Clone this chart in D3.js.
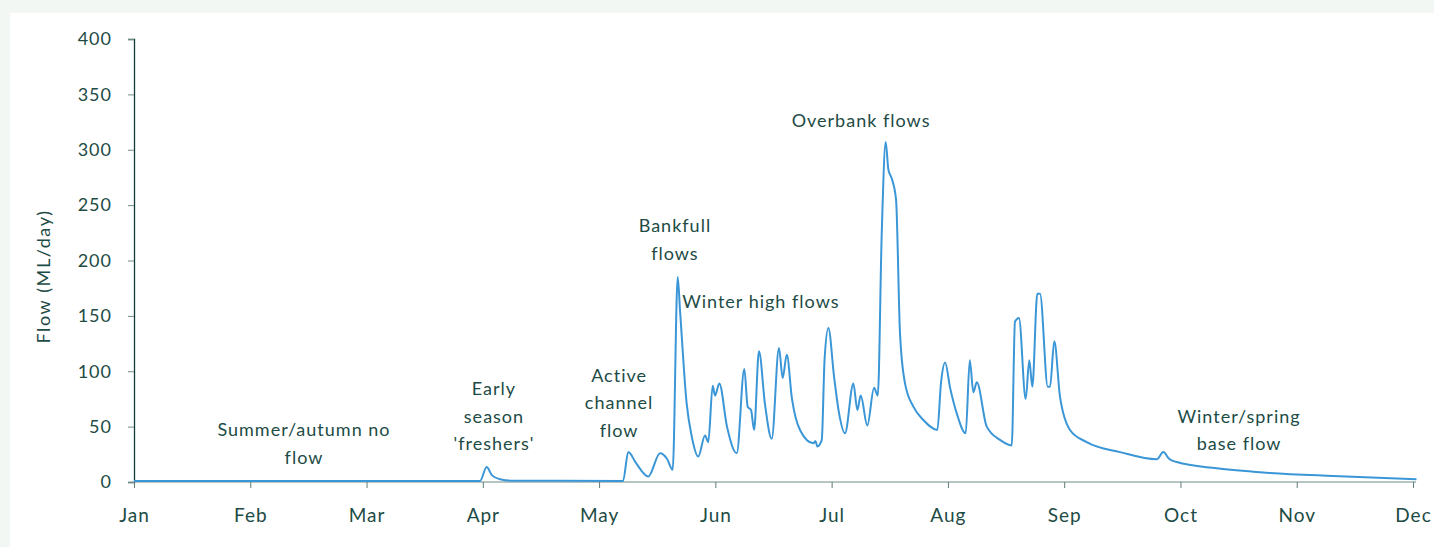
<!DOCTYPE html>
<html>
  <head>
    <meta charset="utf-8">
    <style>
    body { margin: 0; background: #f2f7f4; }
    #card {
      position: absolute;
      left: 10px;
      top: 13px;
      width: 1424px;
      height: 534px;
      background: #fff;
    }
    svg { position: absolute; left: 0; top: 0; }
    text { font-family: Lato, sans-serif; fill: #1d4b45; letter-spacing: 1px; }
    </style>
  </head>
  <body>
    <div id="card"></div>
    <svg id="chart" width="1434" height="547"></svg>

    <script src="https://d3js.org/d3.v7.min.js"></script>
    <script>
      // Month labels (x is measured in months from Jan)
      const months = ["Jan", "Feb", "Mar", "Apr", "May", "Jun", "Jul", "Aug", "Sep", "Oct", "Nov", "Dec"];
      const yTicks = [0, 50, 100, 150, 200, 250, 300, 350, 400];

      // Flow hydrograph
      const flowMonth = [0, 2.976, 3.033, 3.079, 3.148, 3.251, 4.206, 4.251, 4.318, 4.423, 4.524, 4.584, 4.633,
        4.676, 4.696, 4.753, 4.799, 4.853, 4.911, 4.939, 4.977, 4.997, 5.034, 5.100, 5.184, 5.249, 5.278,
        5.307, 5.333, 5.375, 5.427, 5.485, 5.547, 5.579, 5.614, 5.659, 5.728, 5.843, 5.861, 5.877, 5.915,
        5.939, 5.972, 6.021, 6.064, 6.115, 6.187, 6.221, 6.250, 6.307, 6.365, 6.397, 6.431, 6.465, 6.488,
        6.517, 6.554, 6.588, 6.631, 6.703, 6.789, 6.909, 6.941, 6.976, 7.019, 7.076, 7.153, 7.188, 7.219,
        7.248, 7.334, 7.448, 7.549, 7.577, 7.611, 7.669, 7.700, 7.726, 7.769, 7.792, 7.859, 7.878, 7.915,
        7.964, 8.050, 8.194, 8.480, 8.796, 8.853, 8.902, 8.968, 9.312, 9.742, 10.312, 11.03];
      const flowValue = [1, 1, 13.5, 6, 2.5, 1.2, 1, 27, 17, 5, 26, 21, 11,
        185, 155, 71, 40, 23, 42, 36, 87, 78, 89, 50, 26, 102, 68,
        65, 47, 118, 70, 39, 121, 94, 115, 75, 47, 35, 37, 32, 38,
        110, 139, 95, 62, 44, 89, 65, 78, 51, 85, 78, 225, 307, 282,
        274, 255, 134, 89, 68, 56, 47, 90, 108, 85, 62, 44, 110, 81,
        90, 50, 38, 33, 145, 148, 75, 110, 86, 170, 170, 86, 86, 127,
        77, 47, 36, 27, 20.5, 27, 21, 18, 12.4, 8.4, 5.4, 2.5];

      // Annotation text, placed at (month, flow)
      const noteLines = [
        ["Summer/autumn no", "flow"],
        ["Early", "season", "'freshers'"],
        ["Active", "channel", "flow"],
        ["Bankfull", "flows"],
        ["Winter high flows"],
        ["Overbank flows"],
        ["Winter/spring", "base flow"]
      ];
      const noteMonth = [1.462, 3.096, 4.172, 4.652, 5.391, 6.253, 9.504];
      const noteFlow = [47, 84, 96, 231, 163, 326, 59];

      const margin = { left: 134, right: 1413, top: 39, bottom: 482 };
      const svg = d3.select("#chart");

      const x = d3.scaleLinear().domain([0, 11]).range([margin.left, margin.right]);
      const y = d3.scaleLinear().domain([0, 400]).range([margin.bottom, margin.top]);

      // Y axis
      const yAxis = svg.append("g")
        .attr("transform", `translate(${margin.left},0)`)
        .call(d3.axisLeft(y).tickValues(yTicks).tickSize(6).tickPadding(16));
      yAxis.select(".domain").attr("stroke", "#0f3d36").attr("stroke-width", 1.3);
      yAxis.selectAll(".tick line").attr("stroke", "#6f8b86");
      yAxis.selectAll(".tick text").style("font-size", "18px").style("font-family", "Lato, sans-serif").attr("fill", "#1d4b45");

      // X axis
      const xAxis = svg.append("g")
        .attr("transform", `translate(0,${margin.bottom})`)
        .call(d3.axisBottom(x).tickValues(d3.range(months.length)).tickFormat(i => months[i]).tickSize(6).tickPadding(21).tickSizeOuter(0));
      xAxis.select(".domain").attr("stroke", "#6f8b86").attr("d", `M${margin.left},0H${margin.right + 3}`);
      xAxis.selectAll(".tick line").attr("stroke", "#5f7c77");
      xAxis.selectAll(".tick text").style("font-size", "19px").style("font-family", "Lato, sans-serif").attr("fill", "#1d4b45");

      // Y axis title
      svg.append("text")
        .attr("transform", `translate(50,${(margin.top + margin.bottom) / 2 + 16}) rotate(-90)`)
        .attr("text-anchor", "middle")
        .style("font-size", "18px")
        .style("letter-spacing", "1.6px")
        .text("Flow (ML/day)");

      // Flow line
      const pts = flowMonth.map((m, i) => [m, flowValue[i]]);
      const line = d3.line()
        .x(d => x(d[0]))
        .y(d => y(d[1]))
        .curve(d3.curveMonotoneX);

      svg.append("path")
        .datum(pts)
        .attr("fill", "none")
        .attr("stroke", "#3a96d6")
        .attr("stroke-width", 2)
        .attr("d", line);

      // Annotations
      noteLines.forEach((lines, i) => {
        const t = svg.append("text")
          .attr("x", x(noteMonth[i]))
          .attr("y", y(noteFlow[i]))
          .attr("text-anchor", "middle")
          .style("font-size", "18px");
        lines.forEach((s, j) => {
          t.append("tspan")
            .attr("x", x(noteMonth[i]))
            .attr("dy", j === 0 ? "0.35em" : "27.5px")
            .text(s);
        });
      });
    </script>
  </body>
</html>
